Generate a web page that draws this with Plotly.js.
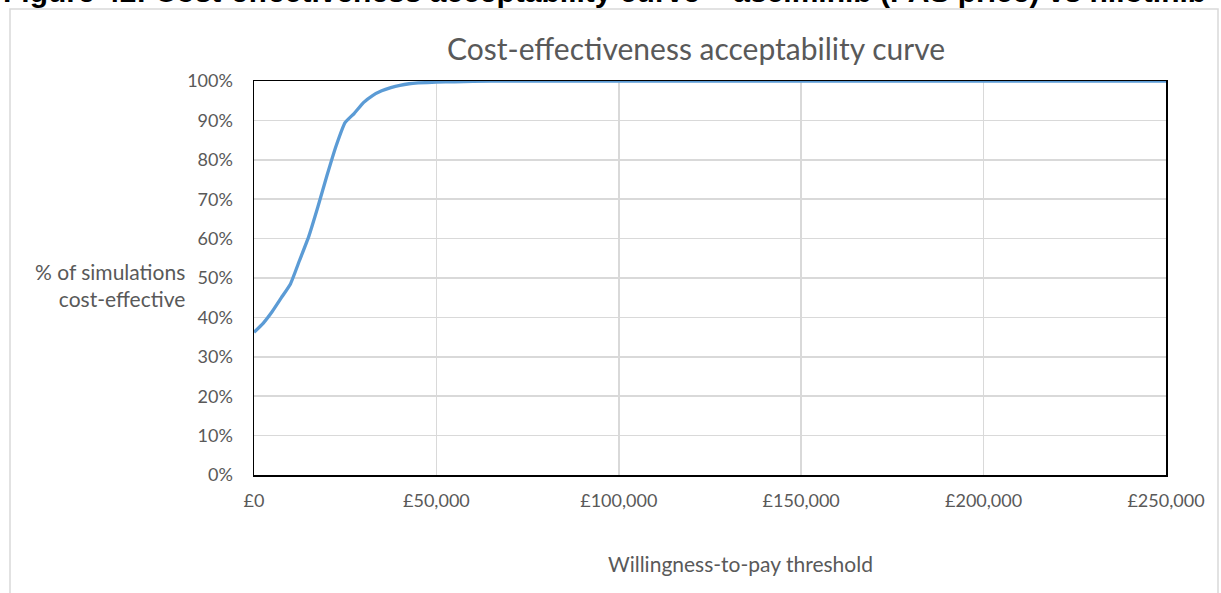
<!DOCTYPE html>
<html>
<head>
<meta charset="utf-8">
<script src="https://cdn.plot.ly/plotly-3.0.1.min.js"></script>
<style>html,body{margin:0;padding:0;background:#fff;}#chart{width:1221px;height:593px;}</style>
</head>
<body>
<div id="chart"></div>
<script>
const wtp = [0, 2500, 5000, 7500, 10000, 12500, 15000, 17500, 20000, 22500, 25000, 27500, 30000, 32500, 35000, 37500, 40000, 42500, 45000, 50000, 55000, 60000, 70000, 100000, 150000, 200000, 250000];
const pctCostEffective = [36.2, 38.5, 41.5, 45.0, 48.5, 54.5, 60.5, 68.0, 76.0, 83.5, 89.5, 91.8, 94.5, 96.3, 97.5, 98.3, 98.9, 99.3, 99.5, 99.7, 99.8, 99.9, 100, 100, 100, 100, 100];
const xTickVals = [0, 50000, 100000, 150000, 200000, 250000];
const xTickText = ['£0', '£50,000', '£100,000', '£150,000', '£200,000', '£250,000'];
const yTickVals = [0, 10, 20, 30, 40, 50, 60, 70, 80, 90, 100];
const yTickText = ['0%', '10%', '20%', '30%', '40%', '50%', '60%', '70%', '80%', '90%', '100%'];

const W = 1221, H = 593;
const L = 254, R = 55, T = 81, B = 118;
const pw = W - L - R, ph = H - T - B;
const px = x => (x - L) / pw;
const py = y => 1 - (y - T) / ph;

const font = 'Lato, "Open Sans", sans-serif';
const grey = '#595959';

const trace = {
  x: wtp, y: pctCostEffective, type: 'scatter', mode: 'lines',
  line: {color: '#5b9bd5', width: 3.3, shape: 'spline', smoothing: 0.4},
  hoverinfo: 'x+y', cliponaxis: false
};

const layout = {
  width: W, height: H,
  margin: {l: L, r: R, t: T, b: B},
  paper_bgcolor: '#fff', plot_bgcolor: '#fff',
  showlegend: false,
  font: {family: font, color: grey, size: 18},
  xaxis: {
    range: [0, 250000], tickvals: xTickVals, ticktext: xTickText,
    showgrid: true, gridcolor: '#d9d9d9', gridwidth: 1.5,
    showline: true, linecolor: '#000', linewidth: 1.5, mirror: true,
    ticks: '', zeroline: false, ticklabelstandoff: 9,
    tickfont: {family: font, size: 18, color: grey}
  },
  yaxis: {
    range: [0, 100], tickvals: yTickVals, ticktext: yTickText,
    showgrid: true, gridcolor: '#d9d9d9', gridwidth: 1.5,
    showline: true, linecolor: '#000', linewidth: 1.5, mirror: true,
    ticks: '', zeroline: false, ticklabelstandoff: 16,
    tickfont: {family: font, size: 18, color: grey}
  },
  shapes: [
    {type: 'rect', xref: 'paper', yref: 'paper', x0: px(10), x1: px(1218), y0: py(650), y1: py(9),
     line: {color: '#d9d9d9', width: 1.5}, fillcolor: 'rgba(0,0,0,0)', layer: 'below'}
  ],
  annotations: [
    {text: 'Figure 42: Cost-effectiveness acceptability curve – asciminib (PAS price) vs nilotinib',
     xref: 'paper', yref: 'paper', x: px(1), y: py(10.5), xanchor: 'left', yanchor: 'bottom',
     showarrow: false, font: {family: 'Liberation Sans, Arial, sans-serif', size: 30, color: '#000', weight: 'bold'}},
    {text: 'Cost-effectiveness acceptability curve', xref: 'paper', yref: 'paper',
     x: px(696), y: py(48), xanchor: 'center', yanchor: 'middle', showarrow: false,
     font: {family: font, size: 30, color: grey}},
    {text: '% of simulations<br>cost-effective', xref: 'paper', yref: 'paper',
     x: px(187), y: py(285), xanchor: 'right', yanchor: 'middle', align: 'right', showarrow: false,
     font: {family: font, size: 21, color: grey}},
    {text: 'Willingness-to-pay threshold', xref: 'paper', yref: 'paper',
     x: px(740), y: py(563), xanchor: 'center', yanchor: 'middle', showarrow: false,
     font: {family: font, size: 21, color: grey}}
  ]
};

Plotly.newPlot('chart', [trace], layout, {displayModeBar: false, staticPlot: true});
</script>
</body>
</html>
